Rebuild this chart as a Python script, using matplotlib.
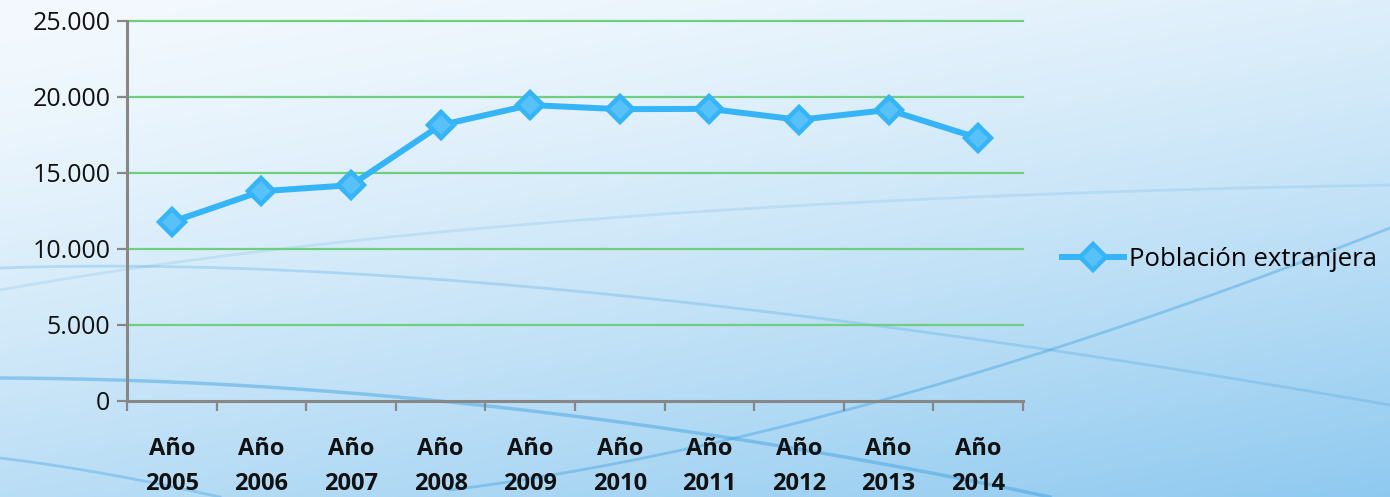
import numpy as np
import matplotlib
matplotlib.use("Agg")
from matplotlib import pyplot as plt

# Data
years = ["2005", "2006", "2007", "2008", "2009", "2010", "2011", "2012", "2013", "2014"]
poblacion = [11780, 13800, 14200, 18150, 19470, 19200, 19220, 18500, 19150, 17300]
y_ticks = [0, 5000, 10000, 15000, 20000, 25000]
y_tick_labels = ["0", "5.000", "10.000", "15.000", "20.000", "25.000"]
serie_label = "Población extranjera"

W, H = 1390, 497
LINE_BLUE = "#36b4f8"
GRID_GREEN = "#70cf7e"
AXIS_GRAY = "#878787"

plt.rcParams['font.family'] = ['Open Sans', 'DejaVu Sans']

fig = plt.figure(figsize=(W / 100, H / 100), dpi=100)

# background: soft blue gradient with a few swooshes
bg = fig.add_axes([0, 0, 1, 1])
bg.set_xlim(0, W)
bg.set_ylim(H, 0)
bg.axis("off")
yy, xx = np.mgrid[0:H, 0:W]
t = np.clip(0.7 * (yy / H) + 0.35 * (xx / W) - 0.05, 0, 1) ** 1.3
top = np.array([0.95, 0.975, 0.995])
bot = np.array([0.56, 0.79, 0.94])
img = top[None, None, :] * (1 - t[..., None]) + bot[None, None, :] * t[..., None]
bg.imshow(img, extent=[0, W, H, 0], aspect="auto", zorder=0)


def bezier(p0, p1, p2, n=200):
    s = np.linspace(0, 1, n)[:, None]
    p0, p1, p2 = map(np.array, (p0, p1, p2))
    return (1 - s) ** 2 * p0 + 2 * (1 - s) * s * p1 + s ** 2 * p2


swooshes = [
    ((0, 290), (500, 200), (1390, 185), 2.0, 0.15),
    ((0, 268), (500, 250), (1390, 405), 2.0, 0.25),
    ((0, 378), (500, 380), (1050, 497), 2.5, 0.45),
    ((450, 490), (850, 440), (1390, 228), 2.0, 0.4),
    ((0, 458), (100, 470), (220, 497), 2.0, 0.35),
]
for p0, p1, p2, lw, a in swooshes:
    c = bezier(p0, p1, p2)
    bg.plot(c[:, 0], c[:, 1], color="#3a9fe0", lw=lw, alpha=a, zorder=1)

# chart
ax = fig.add_axes([127 / W, 1 - 401 / H, (1023 - 127) / W, (401 - 21) / H])
ax.patch.set_alpha(0)
x = np.arange(len(years))
ax.plot(x, poblacion, color=LINE_BLUE, lw=4.3, marker="D", markersize=13,
        markerfacecolor="#58c1f8", markeredgecolor=LINE_BLUE, markeredgewidth=3.2,
        label=serie_label, zorder=3, solid_joinstyle="round")

ax.set_xlim(-0.5, len(years) - 0.5)
ax.set_ylim(0, 25000)
ax.set_yticks(y_ticks)
ax.set_yticklabels(y_tick_labels, fontsize=18, color="#111111")
for yv in y_ticks[1:]:
    ax.axhline(yv, color=GRID_GREEN, lw=1.6, zorder=1, clip_on=False)

ax.set_xticks(np.arange(len(years) + 1) - 0.5)
ax.set_xticklabels([])
ax.tick_params(axis="both", direction="out", length=7, width=1.6, color=AXIS_GRAY)
ax.tick_params(axis="y", pad=5)
for i, yr in enumerate(years):
    ax.text(i, -0.095, "Año\n" + yr, transform=ax.get_xaxis_transform(),
            ha="center", va="top", fontsize=17, fontweight="bold",
            linespacing=1.6, color="#111111")

for side in ["top", "right"]:
    ax.spines[side].set_visible(False)
for side in ["left", "bottom"]:
    ax.spines[side].set_color(AXIS_GRAY)
    ax.spines[side].set_linewidth(2.2)

leg = ax.legend(loc="center left", bbox_to_anchor=(1062 / W, 1 - 259 / H),
                bbox_transform=fig.transFigure, frameon=False, fontsize=18.5,
                handlelength=2.4, handletextpad=0.2, borderaxespad=0,
                borderpad=0)

fig.savefig("out.png", dpi=100)
